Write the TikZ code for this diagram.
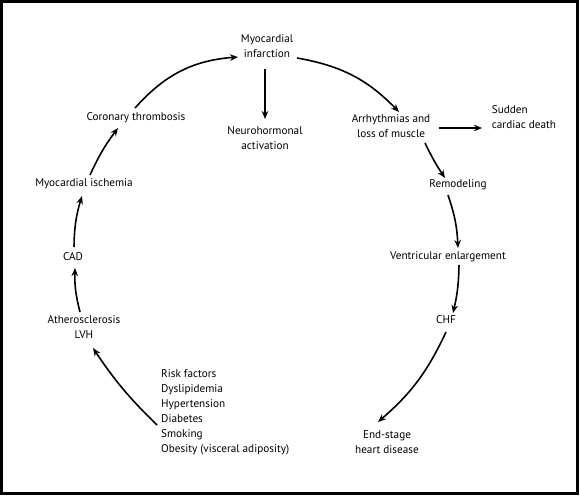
\documentclass[tikz,border=0pt]{standalone}
\usepackage{fontspec}
\setmainfont{PT Sans}
\usetikzlibrary{arrows.meta}
\begin{document}
\begin{tikzpicture}[x=1pt,y=-1pt,
  lbl/.style={font=\fontsize{11.2}{15}\selectfont, align=center, inner sep=1pt},
  lbll/.style={font=\fontsize{11.2}{15}\selectfont, align=left, inner sep=1pt},
  arr/.style={line width=1.6pt, -{Stealth[length=8pt,width=6.5pt,inset=2.5pt]}}]
\useasboundingbox (0,0) rectangle (580,496);
\draw[line width=3.3pt] (1.8,1.3) rectangle (577.6,493.5);
% nodes
\node[lbl] (mi) at (267,46) {Myocardial\\infarction};
\node[lbl] (nh) at (265,138) {Neurohormonal\\activation};
\node[lbl] (ar) at (391,126) {Arrhythmias and\\loss of muscle};
\node[lbll] (sd) at (524,117) {Sudden\\cardiac death};
\node[lbl] (re) at (458,185) {Remodeling};
\node[lbl] (ve) at (448,257) {Ventricular enlargement};
\node[lbl] (chf) at (446,320) {CHF};
\node[lbl] (es) at (387,442) {End-stage\\heart disease};
\node[lbl] (ct) at (136,118) {Coronary thrombosis};
\node[lbl] (mis) at (84,184) {Myocardial ischemia};
\node[lbl] (cad) at (73,257) {CAD};
\node[lbl] (ath) at (84,327) {Atherosclerosis\\LVH};
\node[lbll, anchor=west] (rf) at (160,412) {Risk factors\\Dyslipidemia\\Hypertension\\Diabetes\\Smoking\\Obesity (visceral adiposity)};
% coordinates for connector ends
\coordinate (ctS) at (135,108);
\coordinate (miW) at (238,57);
\coordinate (miN) at (265,69);
\coordinate (nhN) at (265,119);
\coordinate (miE) at (297,58);
\coordinate (arN) at (399,112);
\coordinate (arE) at (439,128);
\coordinate (sdW) at (482,128);
\coordinate (arS) at (425,143);
\coordinate (reN) at (445,178);
\coordinate (reS) at (448,195);
\coordinate (veN) at (458,248);
\coordinate (veS) at (459,265);
\coordinate (chfN) at (453,313);
\coordinate (chfS) at (446,332);
\coordinate (esN) at (378,422);
\coordinate (rfW) at (157,425);
\coordinate (athS) at (93,348);
\coordinate (athN) at (80,312);
\coordinate (cadS) at (75,268);
\coordinate (cadN) at (74,247);
\coordinate (misS) at (82,196);
\coordinate (misN) at (90,175);
\coordinate (ctW) at (118,128);
% connectors
\draw[arr] (ctS) to[bend left=22] (miW);
\draw[arr] (miN) -- (nhN);
\draw[arr] (miE) to[bend left=18] (arN);
\draw[arr] (arE) -- (sdW);
\draw[arr] (arS) to[bend right=4] (reN);
\draw[arr] (reS) to[bend left=8] (veN);
\draw[arr] (veS) to[bend left=6] (chfN);
\draw[arr] (chfS) to[bend left=12] (esN);
\draw[arr] (rfW) to[bend left=6] (athS);
\draw[arr] (athN) to[bend left=8] (cadS);
\draw[arr] (cadN) to[bend left=8] (misS);
\draw[arr] (misN) to[bend left=6] (ctW);
\end{tikzpicture}
\end{document}
